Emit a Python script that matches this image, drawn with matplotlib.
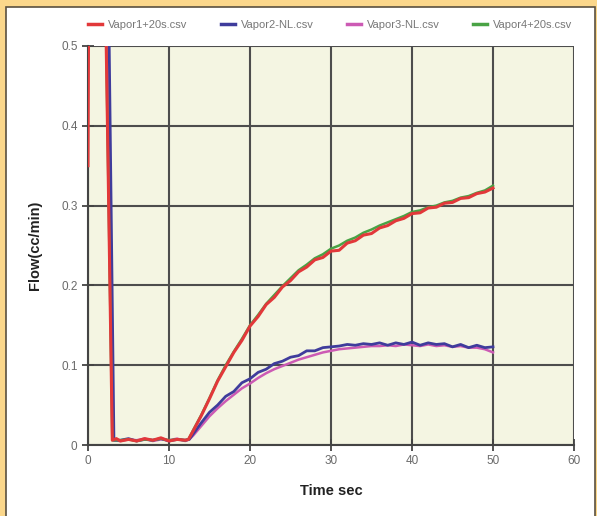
import matplotlib
matplotlib.use('Agg')
import matplotlib.pyplot as plt
from matplotlib.patches import Rectangle

plt.rcParams['font.family'] = ['Liberation Sans Narrow', 'Liberation Sans', 'DejaVu Sans']

# readings (time in s, flow in cc/min)
t1 = [0, 0.1, 2.1, 3.0, 3.5, 4, 5, 6, 7, 8, 9, 10, 11, 12, 12.4,
      13, 14, 15, 16, 17, 18, 19, 20, 21, 22, 23, 24, 25, 26, 27, 28, 29, 30,
      31, 32, 33, 34, 35, 36, 37, 38, 39, 40, 41, 42, 43, 44, 45, 46, 47, 48, 49, 50]
vapor1 = [0.35, 0.6, 0.6, 0.006, 0.008, 0.005, 0.007, 0.005, 0.008, 0.006, 0.009, 0.005, 0.007, 0.006, 0.007,
          0.018, 0.037, 0.058, 0.080, 0.098, 0.116, 0.131, 0.149, 0.161, 0.176, 0.185, 0.198, 0.206, 0.217, 0.223, 0.232, 0.235, 0.243,
          0.244, 0.253, 0.256, 0.263, 0.265, 0.272, 0.275, 0.281, 0.284, 0.290, 0.291, 0.297, 0.298, 0.303, 0.304, 0.309, 0.310, 0.315, 0.317, 0.322]

t2 = [0, 2.5, 3.2, 4, 5, 6, 7, 8, 9, 10, 11, 12, 12.5,
      13, 14, 15, 16, 17, 18, 19, 20, 21, 22, 23, 24, 25, 26, 27, 28, 29, 30,
      31, 32, 33, 34, 35, 36, 37, 38, 39, 40, 41, 42, 43, 44, 45, 46, 47, 48, 49, 50]
vapor2 = [0.6, 0.6, 0.006, 0.006, 0.008, 0.005, 0.007, 0.006, 0.008, 0.005, 0.007, 0.006, 0.007,
          0.014, 0.028, 0.041, 0.050, 0.061, 0.067, 0.078, 0.083, 0.091, 0.095, 0.102, 0.105, 0.110, 0.112, 0.118, 0.118, 0.122, 0.123,
          0.124, 0.126, 0.125, 0.127, 0.126, 0.128, 0.125, 0.128, 0.126, 0.129, 0.125, 0.128, 0.126, 0.127, 0.123, 0.126, 0.122, 0.125, 0.122, 0.123]

t3 = [0, 2.2, 3.1, 4, 5, 6, 7, 8, 9, 10, 11, 12, 12.5,
      13, 14, 15, 16, 17, 18, 19, 20, 21, 22, 23, 24, 25, 26, 27, 28, 29, 30,
      31, 32, 33, 34, 35, 36, 37, 38, 39, 40, 41, 42, 43, 44, 45, 46, 47, 48, 49, 50]
vapor3 = [0.6, 0.6, 0.006, 0.005, 0.007, 0.006, 0.008, 0.005, 0.007, 0.006, 0.008, 0.005, 0.007,
          0.012, 0.024, 0.036, 0.046, 0.055, 0.063, 0.071, 0.077, 0.084, 0.090, 0.095, 0.099, 0.103, 0.107, 0.110, 0.113, 0.116, 0.118,
          0.120, 0.121, 0.122, 0.123, 0.124, 0.124, 0.125, 0.124, 0.126, 0.125, 0.124, 0.126, 0.124, 0.125, 0.123, 0.124, 0.122, 0.122, 0.120, 0.116]

t4 = [0, 2.1, 3.0, 4, 5, 6, 7, 8, 9, 10, 11, 12, 12.4,
      13, 14, 15, 16, 17, 18, 19, 20, 21, 22, 23, 24, 25, 26, 27, 28, 29, 30,
      31, 32, 33, 34, 35, 36, 37, 38, 39, 40, 41, 42, 43, 44, 45, 46, 47, 48, 49, 50]
vapor4 = [0.6, 0.6, 0.006, 0.006, 0.007, 0.005, 0.007, 0.006, 0.008, 0.006, 0.007, 0.006, 0.007,
          0.019, 0.038, 0.059, 0.081, 0.100, 0.117, 0.133, 0.150, 0.163, 0.177, 0.188, 0.199, 0.209, 0.219, 0.226, 0.234, 0.239, 0.246,
          0.250, 0.256, 0.260, 0.266, 0.270, 0.275, 0.279, 0.283, 0.287, 0.292, 0.294, 0.298, 0.300, 0.304, 0.306, 0.310, 0.312, 0.316, 0.319, 0.325]

labels = ['Vapor1+20s.csv', 'Vapor2-NL.csv', 'Vapor3-NL.csv', 'Vapor4+20s.csv']
colors = ['#E2383A', '#3F3C9C', '#CC5AB4', '#49A345']

fig = plt.figure(figsize=(5.97, 5.16), dpi=100, facecolor='#FBD78B')
# white page with a thin dark frame inside the tan border
fig.patches.append(Rectangle((6/597, -0.1), 589/597, 1.1 - 7/516, transform=fig.transFigure,
                             facecolor='white', edgecolor='#5a5040', linewidth=1.2, zorder=-10))

ax = fig.add_axes([88/597, 1 - 445/516, 486/597, 399/516])
ax.set_facecolor('#F4F5E2')

ax.plot(t3, vapor3, color=colors[2], lw=1.8, zorder=3)
ax.plot(t2, vapor2, color=colors[1], lw=2.0, zorder=4)
ax.plot(t4, vapor4, color=colors[3], lw=1.8, zorder=5)
ax.plot(t1, vapor1, color=colors[0], lw=2.2, zorder=6)

ax.set_xlim(0, 60)
ax.set_ylim(0, 0.5)
ax.set_xticks(range(0, 61, 10))
ax.set_yticks([0, 0.1, 0.2, 0.3, 0.4, 0.5])
ax.set_yticklabels(['0', '0.1', '0.2', '0.3', '0.4', '0.5'])
ax.grid(True, color='#4d4d4d', linewidth=1.5, zorder=1)
ax.set_axisbelow(True)
for s in ['top', 'right']:
    ax.spines[s].set_visible(False)
for s in ['left', 'bottom']:
    ax.spines[s].set_color('#444444')
    ax.spines[s].set_linewidth(1.5)
ax.tick_params(direction='inout', length=9, width=1.3, color='#444444',
               labelcolor='#6a6a6a', labelsize=8.5)
ax.tick_params(axis='y', pad=3)
ax.tick_params(axis='x', pad=3)

ax.set_ylabel('Flow(cc/min)', fontsize=10.5, fontweight='bold', color='#222222', labelpad=14)
ax.set_xlabel('Time sec', fontsize=10.5, fontweight='bold', color='#222222', labelpad=12)

handles = [plt.Line2D([], [], color=c, lw=2.5) for c in colors]
fig.legend(handles, labels, loc='center', bbox_to_anchor=(330/597, 1 - 25/516), ncol=4, frameon=False,
           fontsize=8, handlelength=1.3, handletextpad=0.5, columnspacing=3.0, labelcolor='#777777')

fig.savefig('out.png', dpi=100, facecolor=fig.get_facecolor())
